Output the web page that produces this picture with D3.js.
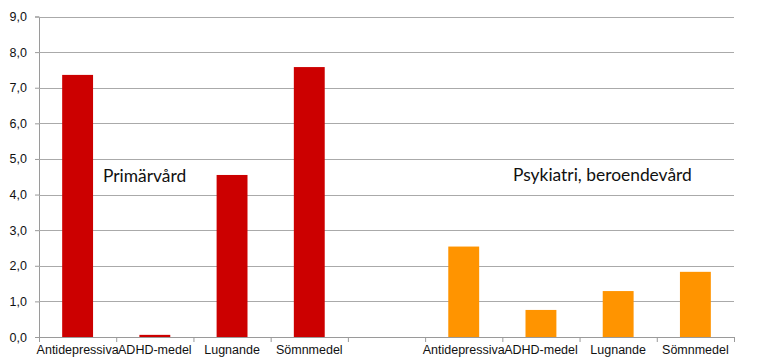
<!DOCTYPE html>
<html>
<head>
<meta charset="utf-8">
<script src="https://cdn.jsdelivr.net/npm/d3@7"></script>
<style>
  body { margin: 0; background: #fff; }
  svg { display: block; font-family: Lato, "Open Sans", sans-serif; }
</style>
</head>
<body>
<svg id="chart" width="760" height="364"></svg>
<script>
// categories and values
const categories = ["Antidepressiva", "ADHD-medel", "Lugnande", "Sömnmedel"];
const primarvard = [7.36, 0.06, 4.55, 7.58];
const psykiatri = [2.54, 0.76, 1.29, 1.83];
const groupNames = ["Primärvård", "Psykiatri, beroendevård"];
const yTicks = [0, 1, 2, 3, 4, 5, 6, 7, 8, 9];

// 9 slots: 4 primary care, one empty, 4 psychiatry
let slots = [];
categories.forEach((c, i) => slots.push({label: c, value: primarvard[i], color: "#cc0000"}));
slots.push({label: "", value: null, color: null});
categories.forEach((c, i) => slots.push({label: c, value: psykiatri[i], color: "#ff9400"}));

const svg = d3.select("#chart");
const plotLeft = 39, plotRight = 734, plotTop = 16.5, plotBottom = 337;

let y = d3.scaleLinear().domain([0, 9]).range([plotBottom, plotTop]);
let xSlot = d3.scaleBand().domain(d3.range(slots.length)).range([plotLeft, plotRight]);
let xBar = d3.scaleBand().domain(d3.range(slots.length)).range([plotLeft, plotRight])
    .paddingInner(0.6).paddingOuter(0.3);
let xEdge = d3.scaleLinear().domain([0, slots.length]).range([plotLeft, plotRight]);

// gridlines + y axis
let yg = svg.append("g").attr("transform", `translate(${plotLeft},0)`)
    .call(d3.axisLeft(y).tickValues(yTicks).tickSize(4).tickPadding(8)
        .tickFormat(d => d3.format(".1f")(d).replace(".", ",")));
yg.select(".domain").attr("stroke", "#9a9a9a");
yg.selectAll(".tick line").attr("stroke", "#9a9a9a");
yg.selectAll("text").attr("font-size", 12.5).attr("fill", "#111");

svg.append("g").selectAll("line").data(yTicks.slice(1)).join("line")
    .attr("x1", plotLeft).attr("x2", plotRight)
    .attr("y1", d => Math.round(y(d)) + 0.5).attr("y2", d => Math.round(y(d)) + 0.5)
    .attr("stroke", "#aaaaaa").attr("stroke-width", 1.2);

// bars
svg.append("g").selectAll("rect").data(slots.filter(d => d.value != null)).join("rect")
    .attr("x", d => xBar(slots.indexOf(d)))
    .attr("width", xBar.bandwidth())
    .attr("y", d => y(d.value))
    .attr("height", d => plotBottom - y(d.value))
    .attr("fill", d => d.color);

// x axis: tick marks at slot edges, labels at slot centres
let xe = svg.append("g").attr("transform", `translate(0,${plotBottom})`)
    .call(d3.axisBottom(xEdge).tickValues(d3.range(slots.length + 1)).tickSize(5).tickFormat(""));
xe.select(".domain").attr("stroke", "#9a9a9a");
xe.selectAll(".tick line").attr("stroke", "#9a9a9a");

let xl = svg.append("g").attr("transform", `translate(0,${plotBottom})`)
    .call(d3.axisBottom(xSlot).tickSize(0).tickPadding(8).tickFormat(i => slots[i].label));
xl.select(".domain").remove();
xl.selectAll("text").attr("font-size", 12.5).attr("fill", "#111");

// group annotations
svg.append("text").attr("x", 103).attr("y", 182).attr("font-size", 17.4).attr("fill", "#111")
    .text(groupNames[0]);
svg.append("text").attr("x", 513).attr("y", 181).attr("font-size", 17.4).attr("fill", "#111")
    .text(groupNames[1]);
</script>
</body>
</html>
